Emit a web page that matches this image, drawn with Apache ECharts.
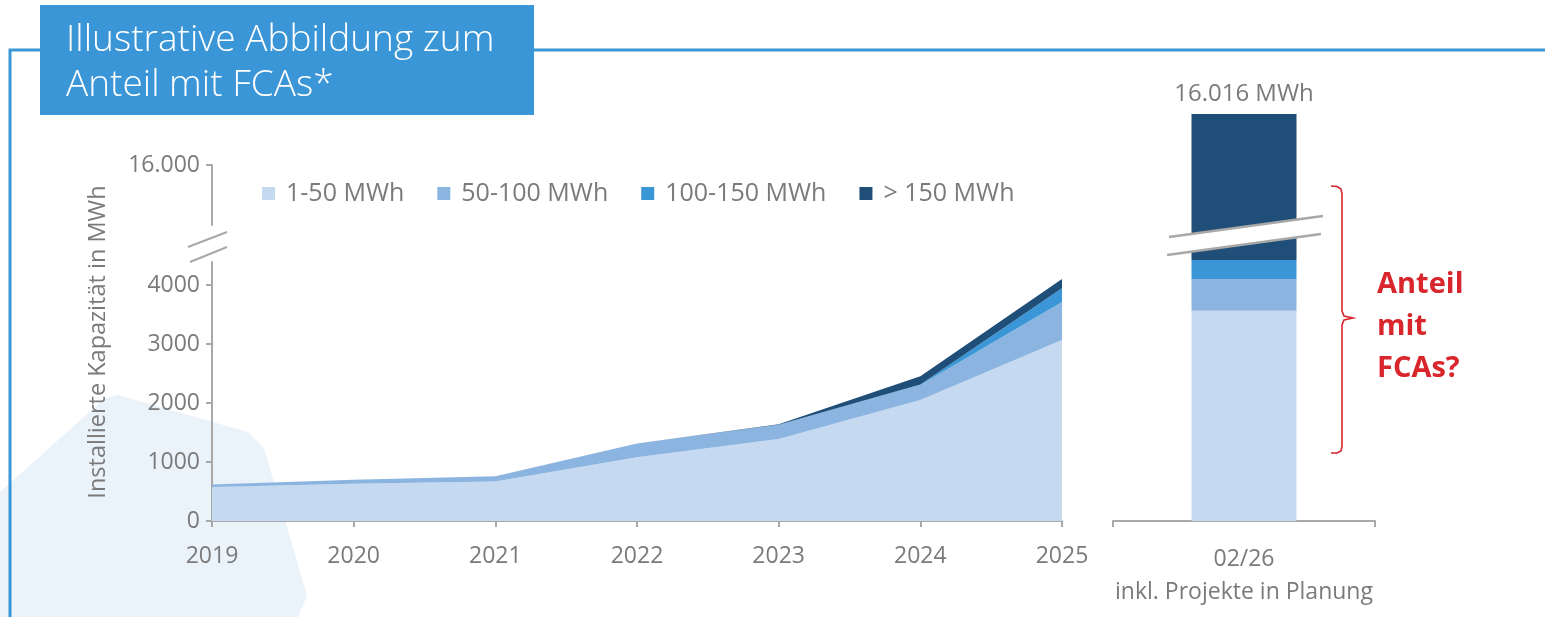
<!DOCTYPE html>
<html><head><meta charset="utf-8">
<script src="https://cdn.jsdelivr.net/npm/echarts@6/dist/echarts.min.js"></script>
<style>html,body{margin:0;padding:0;background:#fff}#c{width:1545px;height:617px}</style>
</head><body><div id="c"></div>
<script>
// ---- data ----
const years = ['2019', '2020', '2021', '2022', '2023', '2024', '2025'];
const seriesNames = ['1-50 MWh', '50-100 MWh', '100-150 MWh', '> 150 MWh'];
const cap1to50 = [575, 630, 670, 1080, 1390, 2050, 3070];
const cap50to100 = [45, 70, 90, 235, 240, 255, 640];
const cap100to150 = [0, 0, 0, 0, 0, 10, 235];
const capOver150 = [0, 0, 0, 0, 10, 140, 155];
const planCategory = ['02/26\ninkl. Projekte in Planung'];
const plan1to50 = [3560];
const plan50to100 = [540];
const plan100to150 = [320];
const planOver150 = [11596];
const yTickValues = [0, 1000, 2000, 3000, 4000];
const yTopTickValues = [16000];

const colors = ['#c5d9f0', '#8cb4e0', '#3a96d6', '#1f4e79'];
const gray = '#7a7a7a';
const axisGray = '#a8a8a8';
const FONT = 'Open Sans';

function fmtDE(v) { return String(v).replace(/\B(?=(\d{3})+(?!\d))/g, '.'); }

const areaData = [cap1to50, cap50to100, cap100to150, capOver150];
const planData = [plan1to50, plan50to100, plan100to150, planOver150];
const planTotal = planData.reduce((s, a) => s + a[0], 0);

const chart = echarts.init(document.getElementById('c'), null, { renderer: 'canvas' });

const series = [];
areaData.forEach((d, i) => {
  series.push({
    name: seriesNames[i], type: 'line', stack: 'area', data: d,
    xAxisIndex: 0, yAxisIndex: 0, symbol: 'none', smooth: false,
    lineStyle: { width: 0, color: colors[i] }, itemStyle: { color: colors[i] },
    areaStyle: { color: colors[i], opacity: 1 }, emphasis: { disabled: true }
  });
});
planData.forEach((d, i) => {
  series.push({
    name: seriesNames[i], type: 'bar', stack: 'planLow', data: d,
    xAxisIndex: 2, yAxisIndex: 2, barWidth: 105, clip: true,
    itemStyle: { color: colors[i] }, emphasis: { disabled: true }
  });
});
planData.forEach((d, i) => {
  const s = {
    name: seriesNames[i], type: 'bar', stack: 'planHigh', data: d,
    xAxisIndex: 3, yAxisIndex: 3, barWidth: 105, clip: true,
    itemStyle: { color: colors[i] }, emphasis: { disabled: true }
  };
  if (i === planData.length - 1) {
    s.label = { show: true, position: 'top', distance: 8, color: gray, fontSize: 24, fontFamily: FONT,
      formatter: () => fmtDE(planTotal) + ' MWh' };
  }
  series.push(s);
});

const axisLine = { show: true, lineStyle: { color: axisGray, width: 2 } };
const axisTick = { show: true, length: 6, lineStyle: { color: axisGray, width: 2 } };
const labelStyle = { color: gray, fontSize: 23, fontFamily: FONT };

const option = {
  animation: false,
  backgroundColor: '#ffffff',
  textStyle: { fontFamily: FONT },
  legend: {
    data: seriesNames, icon: 'rect', itemWidth: 13, itemHeight: 13, itemGap: 33,
    left: 257, top: 176, textStyle: { color: gray, fontSize: 25, fontFamily: FONT, padding: [0, 0, 0, 6] },
    selectedMode: false
  },
  grid: [
    { left: 212, top: 262, width: 850, height: 259 },
    { left: 212, top: 165, width: 850, height: 60 },
    { left: 1113, top: 240, width: 262, height: 281 },
    { left: 1113, top: 100, width: 262, height: 140 }
  ],
  xAxis: [
    { gridIndex: 0, type: 'category', data: years, boundaryGap: false,
      axisLine, axisTick, axisLabel: Object.assign({ margin: 24 }, labelStyle) },
    { gridIndex: 1, type: 'category', data: years, show: false },
    { gridIndex: 2, type: 'category', data: planCategory, boundaryGap: true,
      axisLine, axisTick, axisLabel: Object.assign({ margin: 22, lineHeight: 33 }, labelStyle) },
    { gridIndex: 3, type: 'category', data: planCategory, show: false }
  ],
  yAxis: [
    { gridIndex: 0, type: 'value', min: 0, max: 4390, interval: 1000,
      axisLine, axisTick: Object.assign({ customValues: yTickValues }, axisTick),
      axisLabel: Object.assign({ customValues: yTickValues, margin: 12, formatter: v => String(v) }, labelStyle),
      splitLine: { show: false } },
    { gridIndex: 1, type: 'value', min: 15000, max: 16000, interval: 1000,
      axisLine, axisTick: Object.assign({ customValues: yTopTickValues }, axisTick),
      axisLabel: Object.assign({ customValues: yTopTickValues, margin: 12, formatter: v => fmtDE(v) }, labelStyle),
      splitLine: { show: false } },
    { gridIndex: 2, type: 'value', min: 0, max: 4760, show: false, splitLine: { show: false } },
    { gridIndex: 3, type: 'value', min: 14000, max: 16240, show: false, splitLine: { show: false } }
  ],
  series,
  graphic: [
    // background decoration
    { type: 'polygon', z: -10, silent: true,
      shape: { points: [[0, 492], [104, 399], [118, 395], [248, 432], [264, 448], [307, 596], [298, 617], [0, 617]] },
      style: { fill: '#eaf2fa' } },
    // frame
    { type: 'polyline', z: 50, silent: true,
      shape: { points: [[10, 617], [10, 50], [1545, 50]] },
      style: { stroke: '#3a96d6', lineWidth: 3, fill: null } },
    // title box
    { type: 'rect', z: 60, silent: true, shape: { x: 40, y: 5, width: 494, height: 110 },
      style: { fill: '#3a96d6' } },
    { type: 'text', z: 61, silent: true, x: 66, y: 40,
      style: { text: 'Illustrative Abbildung zum', fill: '#ffffff', font: '300 37px "Open Sans"', align: 'left', verticalAlign: 'middle' } },
    { type: 'text', z: 61, silent: true, x: 66, y: 85,
      style: { text: 'Anteil mit FCAs*', fill: '#ffffff', font: '300 37px "Open Sans"', align: 'left', verticalAlign: 'middle' } },
    // y axis name
    { type: 'text', z: 20, silent: true, x: 98, y: 342, rotation: Math.PI / 2,
      style: { text: 'Installierte Kapazität in MWh', fill: gray, font: '23.5px "Open Sans"', align: 'center', verticalAlign: 'middle' } },
    // left axis break slashes
    { type: 'line', z: 30, silent: true, shape: { x1: 188, y1: 247, x2: 227, y2: 232 },
      style: { stroke: axisGray, lineWidth: 2 } },
    { type: 'line', z: 30, silent: true, shape: { x1: 190, y1: 262, x2: 227, y2: 247 },
      style: { stroke: axisGray, lineWidth: 2 } },
    // right bar break band
    { type: 'polygon', z: 30, silent: true,
      shape: { points: [[1169, 237], [1323, 216], [1321, 234], [1167, 255]] },
      style: { fill: '#ffffff' } },
    { type: 'line', z: 31, silent: true, shape: { x1: 1169, y1: 237, x2: 1323, y2: 216 },
      style: { stroke: '#a8a8a8', lineWidth: 2.5 } },
    { type: 'line', z: 31, silent: true, shape: { x1: 1167, y1: 255, x2: 1321, y2: 234 },
      style: { stroke: '#a8a8a8', lineWidth: 2.5 } },
    // bracket
    { type: 'polyline', z: 30, silent: true,
      shape: { points: [[1331, 186], [1337, 186.5], [1341, 189], [1342, 194], [1342, 311], [1344, 316], [1353, 318], [1344, 320], [1342, 325], [1342, 446], [1341, 451], [1337, 453], [1331, 453]] },
      style: { stroke: '#d8262c', lineWidth: 1.6, fill: null } },
    { type: 'text', z: 30, silent: true, x: 1377, y: 285,
      style: { text: 'Anteil', fill: '#d8262c', font: 'bold 29px "Open Sans"', align: 'left', verticalAlign: 'middle' } },
    { type: 'text', z: 30, silent: true, x: 1377, y: 327,
      style: { text: 'mit', fill: '#d8262c', font: 'bold 29px "Open Sans"', align: 'left', verticalAlign: 'middle' } },
    { type: 'text', z: 30, silent: true, x: 1377, y: 369,
      style: { text: 'FCAs?', fill: '#d8262c', font: 'bold 29px "Open Sans"', align: 'left', verticalAlign: 'middle' } }
  ]
};
chart.setOption(option);
</script>
</body></html>
